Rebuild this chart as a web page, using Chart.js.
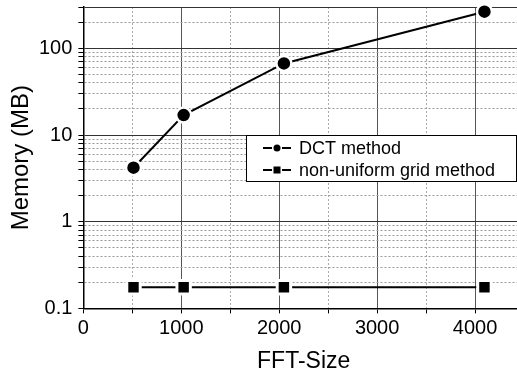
<!DOCTYPE html>
<html>
<head>
<meta charset="utf-8">
<script src="https://cdn.jsdelivr.net/npm/chart.js@4.4.1/dist/chart.umd.min.js"></script>
<style>
  html, body { margin: 0; padding: 0; background: #fff; overflow: hidden; }
  canvas { display: block; }
</style>
</head>
<body>
<canvas id="chart" width="524" height="375"></canvas>
<script>
// data
const fftSizes = [512, 1024, 2048, 4096];
const dctMemory = [4.2, 17, 67, 265];
const gridMemory = [0.175, 0.175, 0.175, 0.175];
const seriesLabels = ['DCT method', 'non-uniform grid method'];

// axis ticks
const xMajorTicks = [0, 1000, 2000, 3000, 4000];
const yMajorTicks = [0.1, 1, 10, 100];
const yMax = 300;

const FONT = '"Liberation Sans", Arial, sans-serif';

function points(ys) {
    return fftSizes.map((x, i) => ({ x: x, y: ys[i] }));
}

// y ticks: decades plus 2..9 minors
function logTicks() {
    const out = [];
    yMajorTicks.forEach(d => {
        for (let m = 1; m <= 9; m++) {
            const v = Math.round(d * m * 1000) / 1000;
            if (v <= yMax) out.push({ value: v, major: m === 1 });
        }
    });
    return out;
}

const isYMajor = v => yMajorTicks.some(t => Math.abs(t - v) < 1e-9) || v === yMax;
const isXMajor = v => xMajorTicks.includes(v);

// legend drawn inside the plot, like the original
const boxLegend = {
    id: 'boxLegend',
    afterDraw(chart) {
        const ctx = chart.ctx;
        const x0 = 246, y0 = 135, w = 271, h = 47;
        ctx.save();
        ctx.fillStyle = '#fff';
        ctx.fillRect(x0, y0, w, h);
        ctx.strokeStyle = '#000';
        ctx.lineWidth = 1;
        ctx.strokeRect(x0 + 0.5, y0 + 0.5, w - 1, h - 1);
        ctx.font = '18px ' + FONT;
        ctx.textBaseline = 'middle';
        ctx.fillStyle = '#000';
        chart.data.datasets.forEach((ds, i) => {
            const y = y0 + 13 + i * 22;
            const cx = 277;
            ctx.lineWidth = 2;
            ctx.strokeStyle = '#000';
            ctx.beginPath();
            ctx.moveTo(263, y); ctx.lineTo(cx - 5, y);
            ctx.moveTo(cx + 5, y); ctx.lineTo(291, y);
            ctx.stroke();
            ctx.beginPath();
            if (ds.pointStyle === 'rect') {
                ctx.fillRect(cx - 3.5, y - 3.5, 7, 7);
            } else {
                ctx.arc(cx, y, 3.5, 0, Math.PI * 2);
                ctx.fill();
            }
            ctx.fillText(ds.label, 299, y + 1);
        });
        ctx.restore();
    }
};

const ctx = document.getElementById('chart').getContext('2d');
new Chart(ctx, {
    type: 'line',
    data: {
        datasets: [{
            label: seriesLabels[0],
            data: points(dctMemory),
            borderColor: '#000',
            borderWidth: 2,
            backgroundColor: '#000',
            pointStyle: 'circle',
            pointRadius: 7.5,
            pointBorderWidth: 2.5,
            pointBorderColor: '#fff',
            pointBackgroundColor: '#000',
            clip: 12
        }, {
            label: seriesLabels[1],
            data: points(gridMemory),
            borderColor: '#000',
            borderWidth: 2,
            backgroundColor: '#000',
            pointStyle: 'rect',
            pointRadius: 9.5,
            pointBorderWidth: 3,
            pointBorderColor: '#fff',
            pointBackgroundColor: '#000',
            clip: 12
        }]
    },
    options: {
        responsive: false,
        animation: false,
        layout: { autoPadding: false, padding: { top: 7, right: 0, left: 9, bottom: 0 } },
        plugins: {
            legend: { display: false },
            tooltip: { enabled: false }
        },
        scales: {
            x: {
                type: 'linear',
                min: 0,
                max: 4500,
                afterFit: scale => { scale.paddingLeft = 0; scale.paddingRight = 0; },
                ticks: {
                    stepSize: 500,
                    autoSkip: false,
                    maxRotation: 0,
                    color: '#000',
                    padding: 3,
                    font: { family: FONT, size: 20 },
                    callback: v => isXMajor(v) ? String(v) : ''
                },
                grid: {
                    color: c => isXMajor(c.tick.value) ? '#555' : '#aaa',
                    lineWidth: 1,
                    tickLength: 5,
                    tickColor: '#000'
                },
                border: {
                    color: '#000',
                    width: 1.5,
                    dash: c => (c.tick && !isXMajor(c.tick.value)) ? [2, 2] : []
                },
                title: {
                    display: true,
                    text: 'FFT-Size',
                    color: '#000',
                    padding: { top: 4, bottom: 0 },
                    font: { family: FONT, size: 23 }
                }
            },
            y: {
                type: 'logarithmic',
                min: 0.1,
                max: yMax,
                afterBuildTicks: scale => { scale.ticks = logTicks(); },
                afterFit: scale => { scale.paddingTop = 0; },
                ticks: {
                    autoSkip: false,
                    color: '#000',
                    padding: 6,
                    font: { family: FONT, size: 20 },
                    callback: v => yMajorTicks.includes(v) ? String(v) : ''
                },
                grid: {
                    color: c => isYMajor(c.tick.value) ? '#333' : '#999',
                    lineWidth: 1,
                    tickLength: 5,
                    tickColor: '#000'
                },
                border: {
                    color: '#000',
                    width: 1.5,
                    dash: c => (c.tick && !isYMajor(c.tick.value)) ? [2, 2] : []
                },
                title: {
                    display: true,
                    text: 'Memory (MB)',
                    color: '#000',
                    padding: { top: 0, bottom: 0 },
                    font: { family: FONT, size: 24, lineHeight: 1 }
                }
            }
        }
    },
    plugins: [boxLegend]
});
</script>
</body>
</html>
